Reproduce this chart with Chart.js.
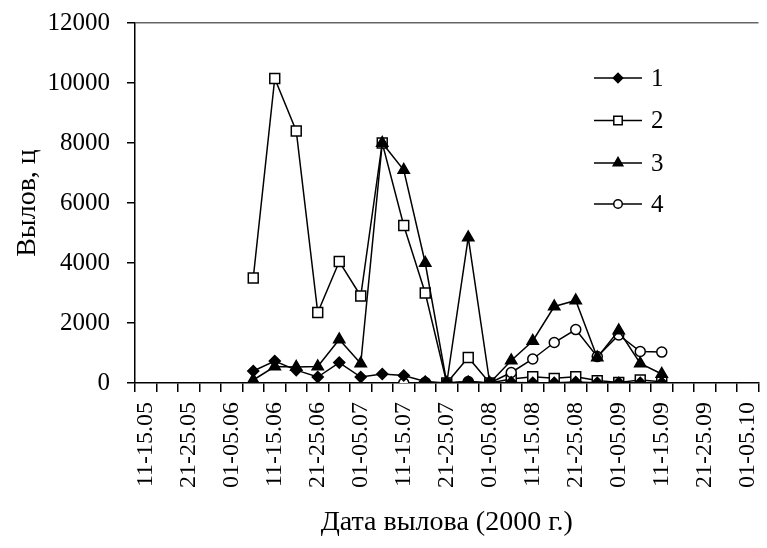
<!DOCTYPE html>
<html>
<head>
<meta charset="utf-8">
<script src="https://cdn.jsdelivr.net/npm/chart.js"></script>
<style>
  body { margin: 0; background: #fff; }
</style>
</head>
<body>
<canvas id="grafico" width="767" height="548"></canvas>
<script>
// периоды по 5 дней
const periodos = ['11-15.05', '16-20.05', '21-25.05', '26-31.05', '01-05.06', '06-10.06', '11-15.06', '16-20.06',
  '21-25.06', '26-30.06', '01-05.07', '06-10.07', '11-15.07', '16-20.07', '21-25.07', '26-31.07', '01-05.08',
  '06-10.08', '11-15.08', '16-20.08', '21-25.08', '26-31.08', '01-05.09', '06-10.09', '11-15.09', '16-20.09',
  '21-25.09', '26-30.09', '01-05.10'];

const serie1 = [null, null, null, null, null, 400, 730, 430, 200, 680, 200, 300, 250, 50, 0, 50, 0, 20, 10, 10, 30, 10, 10, 10, 10, null, null, null, null];
const serie2 = [null, null, null, null, null, 3500, 10150, 8400, 2350, 4050, 2900, 8000, 5250, 3000, 0, 850, 0, 130, 210, 155, 210, 80, 20, 100, 45, null, null, null, null];
const serie3 = [null, null, null, null, null, 100, 550, 530, 550, 1450, 650, 8000, 7100, 4000, 0, 4850, 0, 750, 1400, 2550, 2750, 850, 1750, 650, 300, null, null, null, null];
const serie4 = [null, null, null, null, null, null, null, null, null, null, null, null, 0, 20, 0, 50, 0, 350, 800, 1350, 1780, 880, 1600, 1050, 1030, null, null, null, null];

const nomes = ['1', '2', '3', '4'];
const yTicks = [0, 2000, 4000, 6000, 8000, 10000, 12000];

const fonte = "'Liberation Serif', 'Times New Roman', serif";

function serie(nome, dados, estilo, raio, fundo, ordem) {
  return {
    label: nome,
    data: dados,
    borderColor: '#000',
    borderWidth: 1.5,
    tension: 0,
    pointStyle: estilo,
    pointRadius: raio,
    pointHoverRadius: raio,
    pointBackgroundColor: fundo,
    pointBorderColor: '#000',
    pointBorderWidth: 1.5,
    order: ordem
  };
}

const datasets = [
  serie(nomes[0], serie1, 'rectRot', 5.5, '#000', 0),
  serie(nomes[1], serie2, 'rect', 7, '#fff', 3),
  serie(nomes[2], serie3, 'triangle', 6.5, '#000', 1),
  serie(nomes[3], serie4, 'circle', 5, '#fff', 2)
];

// legenda desenhada à mão: linha com marcador no meio
const legendaLinha = {
  id: 'legendaLinha',
  afterDraw(chart) {
    const ctx = chart.ctx;
    const linhasY = [78, 120.5, 163, 204];
    datasets.forEach((ds, i) => {
      const y = linhasY[i];
      ctx.save();
      ctx.strokeStyle = '#000';
      ctx.lineWidth = 1.5;
      ctx.beginPath();
      ctx.moveTo(594, y);
      ctx.lineTo(642, y);
      ctx.stroke();
      ctx.fillStyle = ds.pointBackgroundColor;
      ctx.strokeStyle = '#000';
      ctx.lineWidth = 1.5;
      Chart.helpers.drawPoint(ctx, {
        pointStyle: ds.pointStyle,
        radius: ds.pointRadius * 0.85,
        rotation: 0,
        borderWidth: 1.5
      }, 618, y);
      ctx.fillStyle = '#000';
      ctx.font = "25px " + fonte;
      ctx.textAlign = 'left';
      ctx.textBaseline = 'middle';
      ctx.fillText(ds.label, 651, y + 1);
      ctx.restore();
    });
  }
};

new Chart(document.getElementById('grafico'), {
  type: 'line',
  data: { labels: periodos, datasets: datasets },
  options: {
    responsive: false,
    animation: false,
    events: [],
    layout: { padding: { top: 23, right: 1, left: 0, bottom: 0 } },
    plugins: { legend: { display: false }, tooltip: { enabled: false } },
    scales: {
      x: {
        type: 'category',
        offset: true,
        grid: { offset: true, drawOnChartArea: false, tickLength: 9, tickColor: '#000', lineWidth: 1.5 },
        border: { color: '#000', width: 1.5 },
        ticks: {
          autoSkip: false,
          maxRotation: 90,
          minRotation: 90,
          padding: 10,
          color: '#000',
          font: { family: fonte, size: 24 },
          callback: (v, i) => (i % 2 === 0 ? periodos[i] : '')
        },
        title: {
          display: true,
          text: 'Дата вылова (2000 г.)',
          color: '#000',
          font: { family: fonte, size: 28 },
          padding: { top: 0, bottom: 9 }
        },
        afterFit(scale) {
          scale.height = 165;
          scale.paddingLeft = 0;
          scale.paddingRight = 0;
        }
      },
      y: {
        min: 0,
        max: 12000,
        afterBuildTicks(scale) {
          scale.ticks = yTicks.map(v => ({ value: v }));
        },
        grid: {
          tickLength: 8,
          tickColor: '#000',
          lineWidth: 1.5,
          color: c => (c.tick && c.tick.value === 12000 ? '#666' : 'rgba(0,0,0,0)')
        },
        border: { color: '#000', width: 1.5 },
        ticks: {
          padding: 17,
          color: '#000',
          font: { family: fonte, size: 25 },
          callback: v => String(v)
        },
        title: {
          display: true,
          text: 'Вылов, ц',
          color: '#000',
          font: { family: fonte, size: 28 },
          padding: { top: 11, bottom: 0 }
        },
        afterFit(scale) {
          scale.width = 135;
          scale.paddingTop = 0;
          scale.paddingBottom = 0;
        }
      }
    }
  },
  plugins: [legendaLinha]
});
</script>
</body>
</html>
